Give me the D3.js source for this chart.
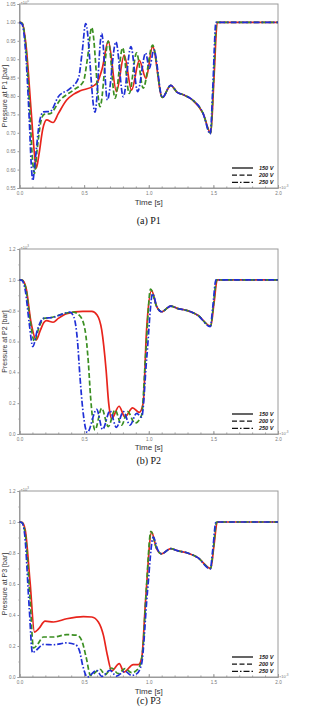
<!DOCTYPE html>
<html><head><meta charset="utf-8">
<script src="https://cdn.jsdelivr.net/npm/d3@7"></script>
<style>html,body{margin:0;padding:0;background:#fff;overflow:hidden}</style>
</head><body>
<svg id="c" width="323" height="707"></svg>
<script>
// ---- data (time in ms, ×10^-3 s) ----
const seriesNames = ["150 V","200 V","250 V"];
const xTicks = [0,0.5,1.0,1.5,2.0];
const p1Ticks = [0.55,0.60,0.65,0.70,0.75,0.80,0.85,0.90,0.95,1.00,1.05];
const p23Ticks = [0,0.2,0.4,0.6,0.8,1.0,1.2];

const p1Red = [[0,1.0],[0.02,0.998],[0.05,0.94],[0.09,0.76],[0.115,0.645],[0.13,0.604],[0.15,0.64],[0.18,0.71],[0.21,0.735],[0.26,0.728],[0.30,0.752],[0.365,0.789],[0.42,0.805],[0.47,0.814],[0.57,0.827],[0.60,0.836],[0.64,0.875],[0.687,0.949],[0.75,0.812],[0.81,0.911],[0.867,0.816],[0.927,0.897],[0.978,0.848],[1.03,0.934],[1.105,0.796],[1.17,0.829],[1.22,0.81],[1.27,0.803],[1.34,0.789],[1.42,0.753],[1.48,0.699],[1.505,0.85],[1.53,1.0],[2.0,1.0]];
const p1Green = [[0,1.0],[0.02,0.998],[0.05,0.93],[0.08,0.76],[0.10,0.63],[0.116,0.59],[0.135,0.65],[0.165,0.73],[0.19,0.75],[0.237,0.752],[0.314,0.789],[0.417,0.816],[0.494,0.839],[0.525,0.9],[0.559,0.986],[0.623,0.771],[0.687,0.949],[0.739,0.794],[0.798,0.931],[0.849,0.807],[0.906,0.917],[0.957,0.821],[1.03,0.938],[1.105,0.796],[1.17,0.829],[1.22,0.81],[1.27,0.803],[1.34,0.789],[1.42,0.753],[1.478,0.699],[1.50,0.83],[1.525,1.0],[2.0,1.0]];
const p1Blue = [[0,1.0],[0.02,0.995],[0.045,0.93],[0.075,0.74],[0.09,0.62],[0.103,0.57],[0.12,0.62],[0.155,0.73],[0.185,0.757],[0.237,0.758],[0.30,0.798],[0.39,0.82],[0.456,0.848],[0.485,0.92],[0.512,0.997],[0.584,0.756],[0.636,0.97],[0.68,0.789],[0.746,0.947],[0.803,0.798],[0.862,0.934],[0.914,0.812],[0.976,0.917],[1.004,0.875],[1.04,0.925],[1.105,0.796],[1.17,0.829],[1.22,0.81],[1.27,0.803],[1.34,0.789],[1.42,0.753],[1.476,0.697],[1.495,0.82],[1.52,1.0],[2.0,1.0]];

const p2Red = [[0,1],[0.02,0.998],[0.05,0.95],[0.09,0.72],[0.13,0.61],[0.16,0.67],[0.19,0.725],[0.21,0.735],[0.26,0.725],[0.30,0.75],[0.365,0.78],[0.49,0.795],[0.56,0.795],[0.60,0.772],[0.636,0.675],[0.67,0.415],[0.69,0.2],[0.713,0.10],[0.77,0.18],[0.816,0.11],[0.875,0.17],[0.927,0.14],[0.957,0.2],[0.983,0.675],[1.022,0.93],[1.06,0.83],[1.1,0.793],[1.17,0.83],[1.22,0.815],[1.3,0.80],[1.38,0.77],[1.48,0.70],[1.505,0.85],[1.53,1.0],[2,1]];
const p2Green = [[0,1],[0.02,0.998],[0.05,0.94],[0.08,0.75],[0.116,0.6],[0.15,0.69],[0.19,0.75],[0.24,0.755],[0.365,0.785],[0.417,0.79],[0.468,0.765],[0.507,0.675],[0.533,0.46],[0.55,0.24],[0.584,0.026],[0.636,0.167],[0.687,0.048],[0.739,0.156],[0.79,0.058],[0.837,0.145],[0.893,0.07],[0.945,0.123],[0.975,0.5],[1.014,0.94],[1.06,0.83],[1.1,0.793],[1.17,0.83],[1.22,0.815],[1.3,0.80],[1.38,0.77],[1.478,0.70],[1.50,0.83],[1.525,1.0],[2,1]];
const p2Blue = [[0,1],[0.02,0.995],[0.045,0.93],[0.075,0.72],[0.103,0.567],[0.14,0.68],[0.185,0.75],[0.263,0.757],[0.365,0.787],[0.39,0.79],[0.42,0.76],[0.448,0.61],[0.468,0.37],[0.49,0.156],[0.525,0.01],[0.597,0.16],[0.643,0.03],[0.70,0.15],[0.75,0.043],[0.803,0.145],[0.855,0.058],[0.906,0.134],[0.945,0.11],[0.985,0.5],[1.03,0.91],[1.065,0.82],[1.1,0.793],[1.17,0.83],[1.22,0.815],[1.3,0.80],[1.38,0.77],[1.476,0.697],[1.495,0.82],[1.52,1.0],[2,1]];

const p3Red = [[0,1],[0.02,0.998],[0.044,0.95],[0.082,0.61],[0.116,0.29],[0.147,0.31],[0.198,0.36],[0.263,0.355],[0.365,0.376],[0.494,0.39],[0.559,0.387],[0.61,0.355],[0.649,0.27],[0.68,0.14],[0.713,0.04],[0.772,0.086],[0.808,0.032],[0.88,0.08],[0.919,0.08],[0.945,0.12],[0.976,0.5],[1.022,0.935],[1.06,0.83],[1.1,0.795],[1.17,0.828],[1.22,0.815],[1.3,0.80],[1.38,0.77],[1.48,0.70],[1.505,0.85],[1.53,1.0],[2,1]];
const p3Green = [[0,1],[0.02,0.995],[0.045,0.92],[0.082,0.5],[0.108,0.187],[0.134,0.204],[0.185,0.258],[0.263,0.258],[0.365,0.273],[0.443,0.27],[0.481,0.237],[0.515,0.13],[0.55,0.01],[0.623,0.05],[0.662,0.015],[0.713,0.058],[0.764,0.022],[0.816,0.054],[0.867,0.028],[0.919,0.054],[0.952,0.16],[0.98,0.55],[1.017,0.94],[1.06,0.83],[1.1,0.795],[1.17,0.828],[1.22,0.815],[1.3,0.80],[1.38,0.77],[1.478,0.70],[1.50,0.83],[1.525,1.0],[2,1]];
const p3Blue = [[0,1],[0.02,0.995],[0.04,0.92],[0.075,0.45],[0.1,0.157],[0.134,0.176],[0.185,0.21],[0.263,0.208],[0.365,0.22],[0.43,0.21],[0.463,0.172],[0.489,0.075],[0.525,0.0],[0.597,0.043],[0.636,0.004],[0.70,0.043],[0.75,0.006],[0.816,0.037],[0.867,0.01],[0.906,0.02],[0.945,0.086],[0.99,0.55],[1.035,0.903],[1.07,0.82],[1.1,0.795],[1.17,0.828],[1.22,0.815],[1.3,0.80],[1.38,0.77],[1.476,0.697],[1.495,0.82],[1.52,1.0],[2,1]];

// ---- layout ----
const panels = [
  {top:4, bottom:188, dom:[0.55,1.05], ticks:p1Ticks, fmt:d3.format(".2f"), minor:[], ylab:"Pressure at P1 [bar]", yexp:"0", cap:"(a) P1", capY:224, timeY:205, data:[p1Red,p1Green,p1Blue]},
  {top:249, bottom:434, dom:[0,1.2], ticks:p23Ticks, fmt:d3.format(".1f"), minor:d3.range(0.1,1.2,0.2), ylab:"Pressure at P2 [bar]", yexp:"3", cap:"(b) P2", capY:464, timeY:450, data:[p2Red,p2Green,p2Blue]},
  {top:491, bottom:677, dom:[0,1.2], ticks:p23Ticks, fmt:d3.format(".1f"), minor:d3.range(0.1,1.2,0.2), ylab:"Pressure at P3 [bar]", yexp:"3", cap:"(c) P3", capY:703.5, timeY:694, data:[p3Red,p3Green,p3Blue]}
];
const left = 19.5, right = 278;
const colors = ["#e8241c","#3b8f22","#1f2fd6"];
const dashes = [null,"5,2.5","6,2,1.5,2"];
const svg = d3.select("#c");
const x = d3.scaleLinear().domain([0,2]).range([left,right]);
const minorX = d3.range(0,2.0001,0.1);

panels.forEach(p=>{
  const y = d3.scaleLinear().domain(p.dom).range([p.bottom,p.top]);
  const g = svg.append("g");
  g.append("rect").attr("x",left).attr("y",p.top).attr("width",right-left).attr("height",p.bottom-p.top)
    .attr("fill","none").attr("stroke","#9a9a9a").attr("stroke-width",1);
  g.append("g").attr("transform",`translate(0,${p.bottom})`)
    .call(d3.axisBottom(x).tickValues(xTicks).tickFormat(d3.format(".1f")).tickSize(-3).tickPadding(4));
  g.append("g").attr("transform",`translate(0,${p.bottom})`)
    .call(d3.axisBottom(x).tickValues(minorX).tickFormat("").tickSize(-1.5)).call(a=>a.select(".domain").remove());
  g.append("g").attr("transform",`translate(${left},0)`)
    .call(d3.axisLeft(y).tickValues(p.ticks).tickFormat(p.fmt).tickSize(2).tickPadding(2));
  if(p.minor.length) g.append("g").attr("transform",`translate(${left},0)`)
    .call(d3.axisLeft(y).tickValues(p.minor).tickFormat("").tickSize(1)).call(a=>a.select(".domain").remove());
  g.selectAll(".domain").attr("stroke","#9a9a9a");
  g.selectAll(".tick line").attr("stroke","#9a9a9a");
  g.selectAll(".tick text").attr("fill","#777").attr("font-size","4.6px").attr("font-family","'Liberation Sans', Arial, sans-serif");
  const ex = g.append("text").attr("x",left+1).attr("y",p.top-0.5).attr("font-size","4px").attr("fill","#777").attr("font-family","'Liberation Sans', sans-serif");
  ex.append("tspan").text("×10");
  ex.append("tspan").attr("dy","-1.5").attr("font-size","3px").text(p.yexp);
  const ex2 = g.append("text").attr("x",right+1).attr("y",p.bottom+0.5).attr("font-size","4px").attr("fill","#777").attr("font-family","'Liberation Sans', sans-serif");
  ex2.append("tspan").text("×10");
  ex2.append("tspan").attr("dy","-1.5").attr("font-size","3px").text("-3");
  g.append("text").attr("x",(left+right)/2).attr("y",p.timeY).attr("text-anchor","middle")
    .attr("font-size","8px").attr("fill","#333").attr("font-family","'Liberation Sans', Arial, sans-serif").text("Time [s]");
  g.append("text").attr("transform",`translate(7,${(p.top+p.bottom)/2}) rotate(-90)`).attr("text-anchor","middle")
    .attr("font-size","7px").attr("fill","#333").attr("font-family","'Liberation Sans', Arial, sans-serif").text(p.ylab);
  g.append("text").attr("x",(left+right)/2).attr("y",p.capY).attr("text-anchor","middle")
    .attr("font-size","10px").attr("fill","#111").attr("font-family","'Liberation Serif', 'Times New Roman', serif").text(p.cap);
  const line = d3.line().x(d=>x(d[0])).y(d=>y(d[1])).curve(d3.curveMonotoneX);
  p.data.forEach((s,i)=>{
    g.append("path").datum(s).attr("d",line).attr("fill","none").attr("stroke",colors[i])
      .attr("stroke-width",1.7).attr("stroke-dasharray",dashes[i]);
  });
  seriesNames.forEach((n,i)=>{
    const ly = p.bottom - 20 + i*7.2;
    g.append("line").attr("x1",232).attr("x2",253).attr("y1",ly).attr("y2",ly).attr("stroke","#111")
      .attr("stroke-width",1.3).attr("stroke-dasharray",dashes[i]);
    g.append("text").attr("x",259).attr("y",ly+2).attr("font-size","5.5px").attr("font-style","italic").attr("font-weight","bold")
      .attr("fill","#222").attr("font-family","'Liberation Sans', Arial, sans-serif").text(n);
  });
});
</script>
</body></html>
